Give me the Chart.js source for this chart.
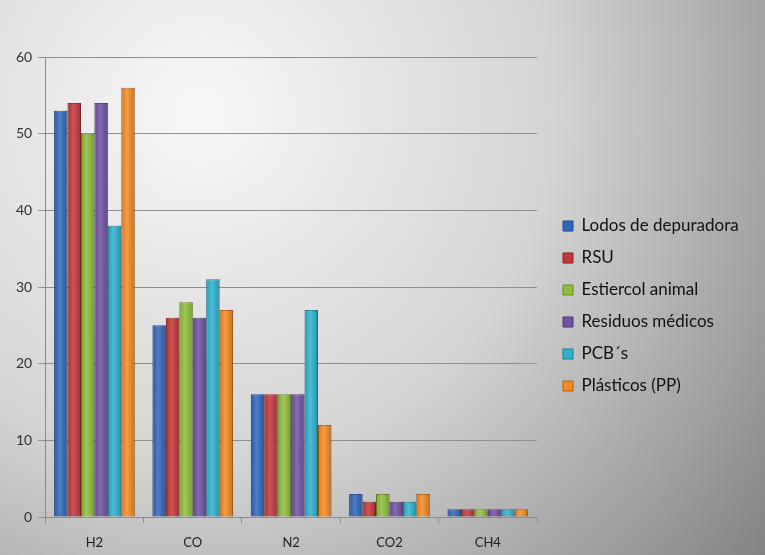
<!DOCTYPE html>
<html>
<head>
<meta charset="utf-8">
<script src="https://cdn.jsdelivr.net/npm/chart.js@4"></script>
<style>
  html, body { margin: 0; padding: 0; }
  #wrap { width: 765px; height: 555px; position: relative; }
</style>
</head>
<body>
<div id="wrap"><canvas id="gasChart" width="765" height="555"></canvas></div>
<script>
const categories = ['H2', 'CO', 'N2', 'CO2', 'CH4'];
const lodos = [53, 25, 16, 3, 1];
const rsu = [54, 26, 16, 2, 1];
const estiercol = [50, 28, 16, 3, 1];
const residuos = [54, 26, 16, 2, 1];
const pcbs = [38, 31, 27, 2, 1];
const plasticos = [56, 27, 12, 3, 1];
const yTicks = [0, 10, 20, 30, 40, 50, 60];

const seriesNames = ['Lodos de depuradora', 'RSU', 'Estiercol animal', 'Residuos médicos', 'PCB´s', 'Plásticos (PP)'];
const seriesData = [lodos, rsu, estiercol, residuos, pcbs, plasticos];
const fills = ['#2f66bb', '#c63538', '#8fbe3a', '#6f50a2', '#2bb2ce', '#f58a1e'];
const edges = ['#1f4a8c', '#8e2325', '#668a25', '#4f3876', '#1b7f95', '#b5600e'];

// brushed grey background
const bgPlugin = {
    id: 'bg',
    beforeDraw(chart) {
        const c = chart.ctx;
        const g = c.createRadialGradient(200, 110, 20, 200, 110, 760);
        g.addColorStop(0, '#f6f6f6');
        g.addColorStop(0.45, '#d4d4d4');
        g.addColorStop(1, '#7a7a7a');
        c.save();
        c.fillStyle = g;
        c.fillRect(0, 0, chart.width, chart.height);
        c.restore();
    }
};

// light sheen on each bar
const sheenPlugin = {
    id: 'sheen',
    afterDatasetsDraw(chart) {
        const c = chart.ctx;
        chart.data.datasets.forEach((ds, i) => {
            chart.getDatasetMeta(i).data.forEach(bar => {
                const w = bar.width, x0 = bar.x - w / 2;
                const g = c.createLinearGradient(x0, 0, x0 + w, 0);
                g.addColorStop(0, 'rgba(0,0,0,0.12)');
                g.addColorStop(0.4, 'rgba(255,255,255,0.15)');
                g.addColorStop(1, 'rgba(0,0,0,0.18)');
                c.save();
                c.fillStyle = g;
                c.fillRect(x0, bar.y, w, bar.base - bar.y);
                c.restore();
            });
        });
    }
};

// wider legend box, with the items pushed a bit away from the plot
const legendGapPlugin = {
    id: 'legendGap',
    afterInit(chart) {
        const lg = chart.legend;
        const fit = lg.fit.bind(lg);
        lg.fit = function () { fit(); this.width = 228; };
    },
    afterLayout(chart) {
        chart.legend.left += 11;
    }
};

const ctx = document.getElementById('gasChart').getContext('2d');
const gasChart = new Chart(ctx, {
    type: 'bar',
    data: {
        labels: categories,
        datasets: seriesNames.map((name, i) => ({
            label: name,
            data: seriesData[i],
            backgroundColor: fills[i],
            borderColor: edges[i],
            borderWidth: 1,
            barPercentage: 1,
            categoryPercentage: 0.82
        }))
    },
    options: {
        responsive: false,
        animation: false,
        layout: { padding: { left: 10, top: 57, right: 0, bottom: 0 } },
        plugins: {
            tooltip: { enabled: false },
            legend: {
                position: 'right',
                labels: {
                    boxWidth: 10,
                    boxHeight: 10,
                    padding: 15,
                    color: '#111',
                    font: { family: 'Lato', size: 17 }
                }
            }
        },
        scales: {
            x: {
                grid: {
                    display: true,
                    offset: true,
                    drawOnChartArea: false,
                    tickLength: 6,
                    color: '#8c8c8c'
                },
                border: { color: '#8c8c8c' },
                ticks: { color: '#222', font: { family: 'Lato', size: 13 }, padding: 12 },
                afterFit(axis) { axis.height = 38; }
            },
            y: {
                min: 0,
                max: 60,
                afterBuildTicks(axis) { axis.ticks = yTicks.map(v => ({ value: v })); },
                grid: { color: '#8f8f8f', tickLength: 7 },
                border: { color: '#8c8c8c' },
                ticks: { color: '#333', font: { family: 'Lato', size: 14 }, padding: 6 }
            }
        }
    },
    plugins: [bgPlugin, sheenPlugin, legendGapPlugin]
});
</script>
</body>
</html>
